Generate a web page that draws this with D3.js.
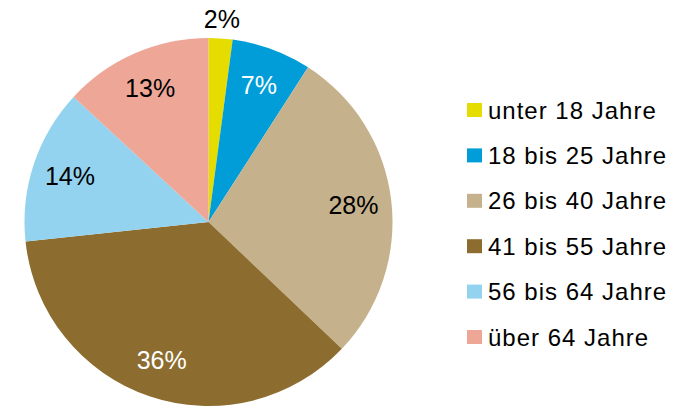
<html>
<head>
<meta charset="utf-8">
<script src="https://d3js.org/d3.v7.min.js"></script>
<style>
body {margin: 0; background: white;}
text {font-family: "Liberation Sans", Arial, sans-serif;}
</style>
</head>
<body>
<svg width="685" height="407"></svg>
<script>

// age groups and their share
var groups = ["unter 18 Jahre", "18 bis 25 Jahre", "26 bis 40 Jahre",
              "41 bis 55 Jahre", "56 bis 64 Jahre", "über 64 Jahre"];
var shares = [2.1, 7.0, 28.0, 36.2, 13.6, 13.1];
var colors = ["#E5DC00", "#009DD9", "#C5B18C", "#8C6D2F", "#93D3EF", "#EEA797"];
var labelColors = ["black", "white", "black", "white", "black", "black"];

var svg = d3.select("svg");

var cx = 208.5, cy = 222, radius = 184;

var pie = d3.pie().sort(null).value(function(d) { return d; });
var arcs = pie(shares);

var arc = d3.arc().innerRadius(0).outerRadius(radius);
var labelArc = d3.arc().innerRadius(146).outerRadius(146);
var outsideArc = d3.arc().innerRadius(203).outerRadius(203);

var g = svg.append("g").attr("transform", "translate(" + cx + "," + cy + ")");

// slices
g.selectAll("path")
  .data(arcs)
  .enter()
  .append("path")
    .attr("d", arc)
    .attr("fill", function(d, i) { return colors[i]; });

// percent labels, small slices outside
g.selectAll("text.pct")
  .data(arcs)
  .enter()
  .append("text")
    .attr("class", "pct")
    .attr("transform", function(d) {
        var c = (d.endAngle - d.startAngle) < 0.2 ? outsideArc.centroid(d) : labelArc.centroid(d);
        return "translate(" + c + ")";
    })
    .attr("text-anchor", "middle")
    .attr("dy", "0.36em")
    .style("font-size", "25px")
    .attr("fill", function(d, i) {
        return (d.endAngle - d.startAngle) < 0.2 ? "black" : labelColors[i];
    })
    .text(function(d) { return d3.format(".0f")(d.data) + "%"; });

// legend
var legendY = d3.scalePoint()
    .domain(groups)
    .range([110, 337]);

var legend = svg.append("g");

legend.selectAll("rect")
  .data(groups)
  .enter()
  .append("rect")
    .attr("x", 467)
    .attr("y", function(d) { return legendY(d) - 7; })
    .attr("width", 15)
    .attr("height", 14)
    .attr("fill", function(d, i) { return colors[i]; });

legend.selectAll("text")
  .data(groups)
  .enter()
  .append("text")
    .attr("x", 488)
    .attr("y", function(d) { return legendY(d); })
    .attr("dy", "0.36em")
    .style("font-size", "24px")
    .style("letter-spacing", "1px")
    .attr("fill", "black")
    .text(function(d) { return d; });

</script>
</body>
</html>
